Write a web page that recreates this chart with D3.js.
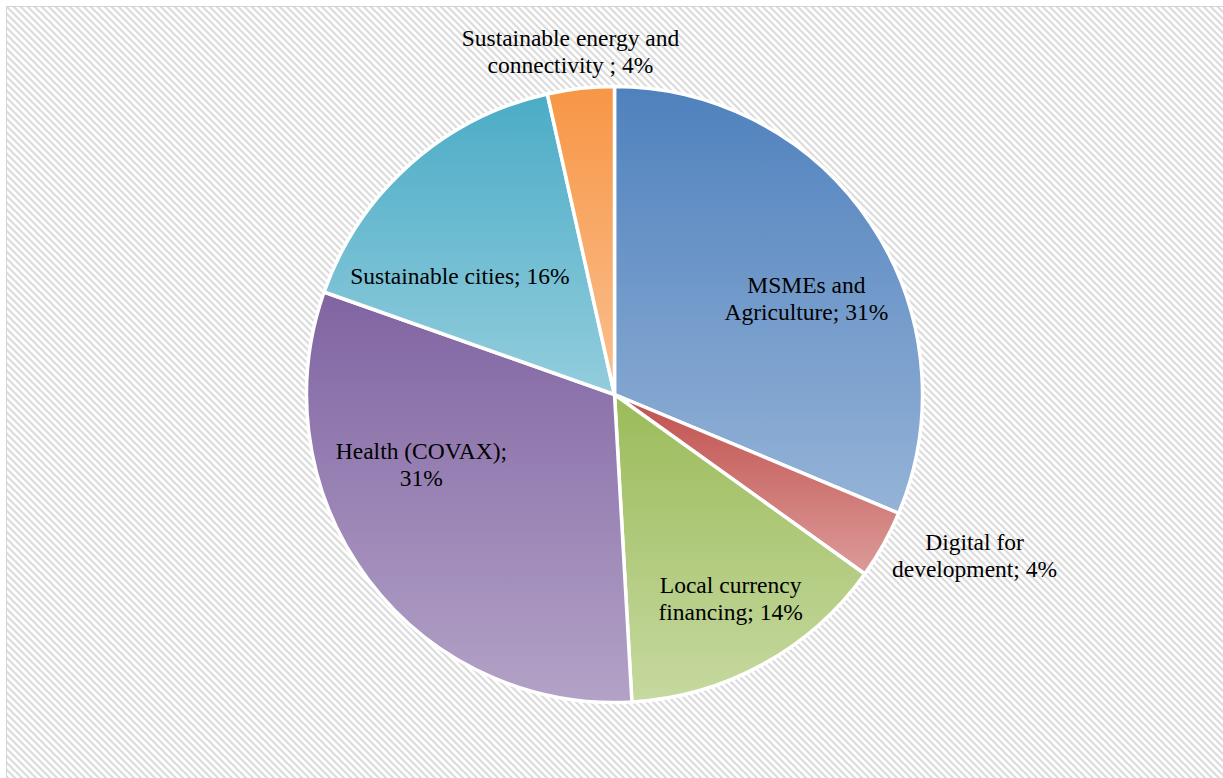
<!DOCTYPE html>
<html>
<head>
<meta charset="utf-8">
<script src="https://cdn.jsdelivr.net/npm/d3@7"></script>
<style>
  html, body { margin: 0; padding: 0; background: #ffffff; overflow: hidden; }
  svg { display: block; }
</style>
</head>
<body>
<svg id="chart" width="1223" height="778"></svg>
<script>
// Share of the portfolio by programme area (clockwise from 12 o'clock)
const categories = [
  "MSMEs and Agriculture",
  "Digital for development",
  "Local currency financing",
  "Health (COVAX)",
  "Sustainable cities",
  "Sustainable energy and connectivity "
];
const shares = [31.3, 3.6, 14.2, 31.3, 16.1, 3.5];

// Label text split into lines (category part); the percentage is appended from the data
const labelLines = [
  ["MSMEs and", "Agriculture; {p}"],
  ["Digital for", "development; {p}"],
  ["Local currency", "financing; {p}"],
  ["Health (COVAX);", "{p}"],
  ["Sustainable cities; {p}"],
  ["Sustainable energy and", "connectivity ; {p}"]
];

// Gradient colours per slice: top → bottom
const colorsTop = ["#4f81bd", "#c0504d", "#9bbb59", "#8064a2", "#4bacc6", "#f79646"];
const colorsBottom = ["#95b3d7", "#dc9b99", "#c6d9a0", "#b3a2c7", "#93cddd", "#fac090"];

// Label anchor (centre x, first baseline y) relative to the pie centre, in radius units
const labelAnchor = [
  [0.623, -0.331],
  [1.169, 0.506],
  [0.377, 0.643],
  [-0.627, 0.211],
  [-0.502, -0.360],
  [-0.143, -1.130]
];

const W = 1223, H = 778;
const cx = 614.5, cy = 394.5, R = 308;
const lineGap = 27;

const svg = d3.select("#chart");
const defs = svg.append("defs");

// diagonal hatch for the chart area
const pat = defs.append("pattern")
  .attr("id", "hatch")
  .attr("patternUnits", "userSpaceOnUse")
  .attr("width", 7).attr("height", 7);
pat.append("rect").attr("width", 7).attr("height", 7).attr("fill", "#ffffff");
pat.append("path")
  .attr("d", "M-2,-2L9,9M-2,5L2,9M5,-2L9,2")
  .attr("stroke", "#dcdcdc")
  .attr("stroke-width", 2.2);

categories.forEach((c, i) => {
  const g = defs.append("linearGradient")
    .attr("id", "grad" + i)
    .attr("x1", 0).attr("y1", 0).attr("x2", 0).attr("y2", 1);
  g.append("stop").attr("offset", "0%").attr("stop-color", colorsTop[i]);
  g.append("stop").attr("offset", "100%").attr("stop-color", colorsBottom[i]);
});

// chart area
svg.append("rect")
  .attr("x", 6.5).attr("y", 6.5)
  .attr("width", W + 20).attr("height", H + 20)
  .attr("fill", "url(#hatch)")
  .attr("stroke", "#d4d4d4")
  .attr("stroke-width", 1);

const data = categories.map((c, i) => ({ name: c, value: shares[i], idx: i }));
const total = d3.sum(shares);

const pie = d3.pie().sort(null).value(d => d.value).startAngle(0).endAngle(2 * Math.PI);
const arc = d3.arc().innerRadius(0).outerRadius(R);

const gPie = svg.append("g").attr("transform", `translate(${cx},${cy})`);

gPie.selectAll("path.slice")
  .data(pie(data))
  .join("path")
  .attr("class", "slice")
  .attr("d", arc)
  .attr("fill", d => `url(#grad${d.data.idx})`)
  .attr("stroke", "#ffffff")
  .attr("stroke-width", 3.5)
  .attr("stroke-linejoin", "round");

// data labels
const fmt = v => Math.round(v / total * 100) + "%";
const gLbl = svg.append("g")
  .attr("transform", `translate(${cx},${cy})`)
  .attr("font-family", "'Liberation Serif', 'Times New Roman', serif")
  .attr("font-size", 23.5)
  .attr("fill", "#000000");
data.forEach((d, i) => {
  const [ax, ay] = labelAnchor[i];
  const t = gLbl.append("text")
    .attr("text-anchor", "middle")
    .attr("x", ax * R)
    .attr("y", ay * R);
  labelLines[i].forEach((ln, k) => {
    t.append("tspan")
      .attr("x", ax * R)
      .attr("dy", k === 0 ? 0 : lineGap)
      .text(ln.replace("{p}", fmt(d.value)));
  });
});
</script>
</body>
</html>
